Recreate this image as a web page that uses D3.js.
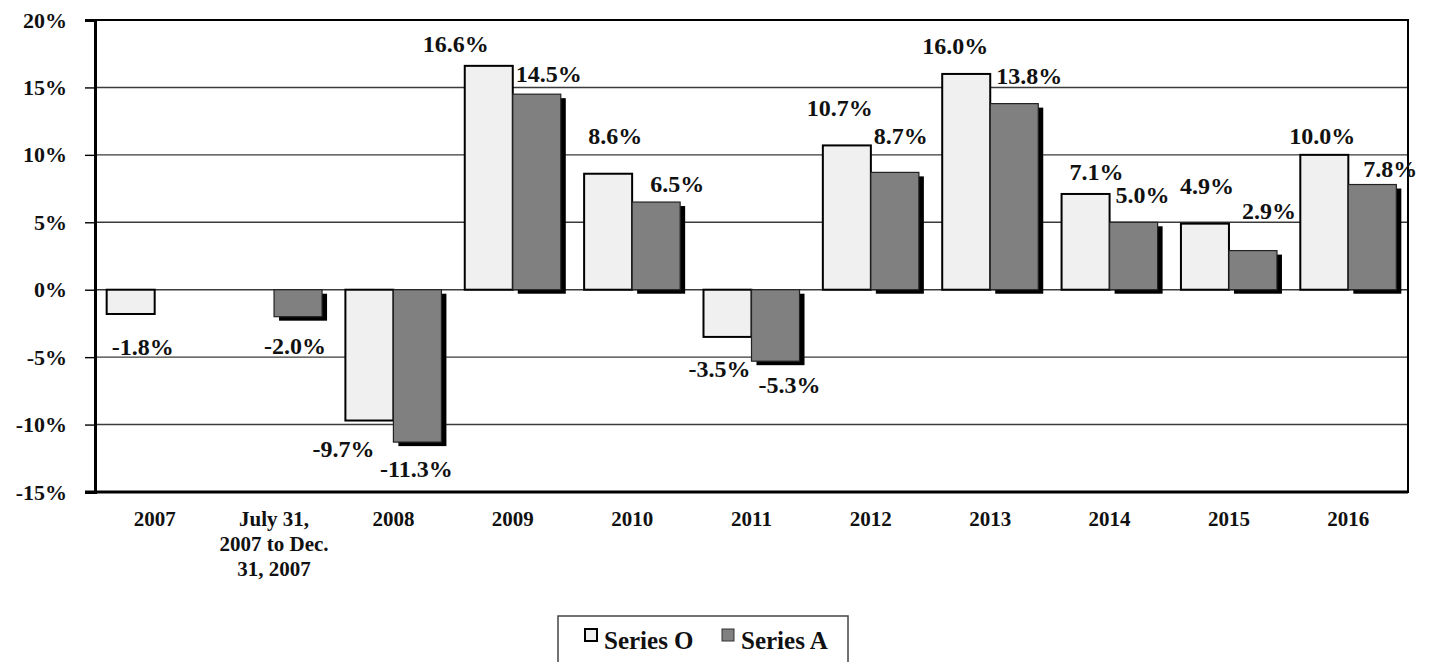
<!DOCTYPE html>
<html>
<head>
<meta charset="utf-8">
<script src="https://cdn.jsdelivr.net/npm/d3@7"></script>
</head>
<body style="margin:0;background:#fff">
<div id="chart"></div>
<script>
// data
const categories = ["2007", "Jul-Dec 2007", "2008", "2009", "2010", "2011", "2012", "2013", "2014", "2015", "2016"];
const tickLines = [["2007"], ["July 31,", "2007 to Dec.", "31, 2007"], ["2008"], ["2009"], ["2010"], ["2011"],
  ["2012"], ["2013"], ["2014"], ["2015"], ["2016"]];
const seriesNames = ["Series O", "Series A"];
const seriesO = [-1.8, null, -9.7, 16.6, 8.6, -3.5, 10.7, 16.0, 7.1, 4.9, 10.0];
const seriesA = [null, -2.0, -11.3, 14.5, 6.5, -5.3, 8.7, 13.8, 5.0, 2.9, 7.8];
const yTicks = [-15, -10, -5, 0, 5, 10, 15, 20];

// hand-placed label nudges (px, relative to bar centre / bar end)
const oLabelDx = [12, 0, -26, -33, 7, -8, -7, -11, 11, 2, -2];
const oLabelDy = [33, 0, 28, -22, -38, 32, -37, -28, -22, -38, -19];
const aLabelDx = [0, -3, -1, 12, 21, 14, 6, 15, 9, 16, 18];
const aLabelDy = [0, 29, 27, -20, -18, 24, -36, -28, -27, -40, -16];

const FONT = "'Liberation Serif', 'Times New Roman', serif";
const width = 1429, height = 662;
const margin = { top: 20, right: 21, bottom: 170, left: 95 };

const svg = d3.select("#chart").append("svg")
  .attr("width", width)
  .attr("height", height);

const x = d3.scaleBand()
  .domain(categories)
  .range([margin.left, width - margin.right]);

const xSub = d3.scaleBand()
  .domain(seriesNames)
  .range([0, x.bandwidth()])
  .paddingOuter(0.243);

const y = d3.scaleLinear()
  .domain([-15, 20])
  .range([height - margin.bottom, margin.top]);

function styleText(sel, size) {
  sel.style("font-family", FONT)
    .style("font-weight", "bold")
    .style("font-size", size + "px")
    .style("fill", "#111");
}

// gridlines
svg.append("g")
  .selectAll("line")
  .data(yTicks)
  .join("line")
  .attr("x1", margin.left)
  .attr("x2", width - margin.right)
  .attr("y1", d => y(d))
  .attr("y2", d => y(d))
  .attr("stroke", "#3a3a3a")
  .attr("stroke-width", 1.4);

const rows = categories.map((c, i) => ({ c, i, o: seriesO[i], a: seriesA[i] }));

const fills = { "Series O": "#f0f0f0", "Series A": "#808080" };

function barY(v) { return Math.min(y(v), y(0)); }
function barH(v) { return Math.abs(y(v) - y(0)); }

// shadows for series A
svg.append("g")
  .selectAll("rect")
  .data(rows.filter(d => d.a != null))
  .join("rect")
  .attr("x", d => x(d.c) + xSub("Series A") + 5)
  .attr("y", d => barY(d.a) + 4)
  .attr("width", xSub.bandwidth())
  .attr("height", d => barH(d.a))
  .attr("fill", "#000");

// series O bars
svg.append("g")
  .selectAll("rect")
  .data(rows.filter(d => d.o != null))
  .join("rect")
  .attr("x", d => x(d.c) + xSub("Series O"))
  .attr("y", d => barY(d.o))
  .attr("width", xSub.bandwidth())
  .attr("height", d => barH(d.o))
  .attr("fill", fills["Series O"])
  .attr("stroke", "#000")
  .attr("stroke-width", 2);

// series A bars
svg.append("g")
  .selectAll("rect")
  .data(rows.filter(d => d.a != null))
  .join("rect")
  .attr("x", d => x(d.c) + xSub("Series A"))
  .attr("y", d => barY(d.a))
  .attr("width", xSub.bandwidth())
  .attr("height", d => barH(d.a))
  .attr("fill", fills["Series A"])
  .attr("stroke", "#222")
  .attr("stroke-width", 1.2);

// plot frame
svg.append("rect")
  .attr("x", margin.left)
  .attr("y", margin.top)
  .attr("width", width - margin.left - margin.right)
  .attr("height", height - margin.top - margin.bottom)
  .attr("fill", "none")
  .attr("stroke", "#000")
  .attr("stroke-width", 2);

// y axis
const yAxis = svg.append("g")
  .attr("transform", `translate(${margin.left},0)`)
  .call(d3.axisLeft(y).tickValues(yTicks).tickSize(10).tickPadding(18).tickFormat(d => d + "%"));
yAxis.select(".domain").attr("stroke", "#000").attr("stroke-width", 3);
yAxis.selectAll(".tick line").attr("stroke", "#000").attr("stroke-width", 1.4);
yAxis.selectAll("text").call(styleText, 22);

// bottom axis line
svg.append("line")
  .attr("x1", margin.left - 10)
  .attr("x2", width - margin.right)
  .attr("y1", y(-15))
  .attr("y2", y(-15))
  .attr("stroke", "#000")
  .attr("stroke-width", 3);

// x tick labels
const xl = svg.append("g")
  .selectAll("text")
  .data(rows)
  .join("text")
  .attr("x", d => x(d.c) + x.bandwidth() / 2)
  .attr("y", y(-15) + 34)
  .attr("text-anchor", "middle")
  .call(styleText, 21);
xl.selectAll("tspan")
  .data(d => tickLines[d.i].map(t => ({ t, x: x(d.c) + x.bandwidth() / 2 })))
  .join("tspan")
  .attr("x", t => t.x)
  .attr("dy", (t, j) => j === 0 ? 0 : 25)
  .text(t => t.t);

// value labels
function addLabels(key, name, dxArr, dyArr) {
  svg.append("g")
    .selectAll("text")
    .data(rows.filter(d => d[key] != null))
    .join("text")
    .attr("x", d => x(d.c) + xSub(name) + xSub.bandwidth() / 2 + dxArr[d.i])
    .attr("y", d => y(d[key]) + dyArr[d.i])
    .attr("text-anchor", "middle")
    .attr("dominant-baseline", "central")
    .call(styleText, 24)
    .text(d => d[key].toFixed(1) + "%");
}
addLabels("o", "Series O", oLabelDx, oLabelDy);
addLabels("a", "Series A", aLabelDx, aLabelDy);

// legend
const legend = svg.append("g");
legend.append("rect")
  .attr("x", 558)
  .attr("y", 616)
  .attr("width", 290)
  .attr("height", 60)
  .attr("fill", "#fff")
  .attr("stroke", "#444")
  .attr("stroke-width", 1.5);

const legendX = d3.scalePoint().domain(seriesNames).range([585, 722]);
const li = legend.selectAll("g.item")
  .data(seriesNames)
  .join("g")
  .attr("class", "item")
  .attr("transform", d => `translate(${legendX(d)},629)`);
li.append("rect")
  .attr("width", 12)
  .attr("height", 12)
  .attr("fill", d => fills[d])
  .attr("stroke", (d, i) => i === 0 ? "#000" : "#333")
  .attr("stroke-width", (d, i) => i === 0 ? 2 : 1);
li.append("text")
  .attr("x", 19)
  .attr("y", 20)
  .call(styleText, 25)
  .text(d => d);
</script>
</body>
</html>
